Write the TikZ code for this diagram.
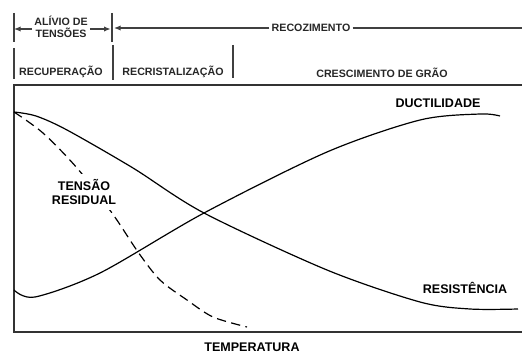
\documentclass[tikz,border=0pt]{standalone}
\usepackage{fontspec}
\setmainfont{Liberation Sans}
\usetikzlibrary{arrows.meta}
\begin{document}
\begin{tikzpicture}[x=0.75pt,y=-0.75pt,
    lbl/.style={font=\bfseries\fontsize{9.4}{10.2}\selectfont,inner sep=1pt,align=center},
    toplbl/.style={font=\bfseries\fontsize{8}{8.6}\selectfont,inner sep=1.5pt,align=center,text=black!85},
    tick/.style={line width=1pt,black!75},
    dim/.style={line width=0.9pt,black!75,-{Latex[length=5pt,width=4pt]}},
    curve/.style={line width=0.9pt}]
\useasboundingbox (0,0) rectangle (522,353);

% cabecalho
\node[toplbl] (alivio) at (61,27) {AL\'IVIO DE\\TENS\~OES};
\node[toplbl] (recoz) at (311,28) {RECOZIMENTO};
\coordinate (t1) at (14,29);
\coordinate (t2) at (112,29);
\coordinate (fim) at (522,28);
\draw[tick] (14,13) -- (14,42);
\draw[tick] (112,13) -- (112,42);
\draw[dim] (alivio.west |- t1) -- (t1);
\draw[dim] (alivio.east |- t2) -- ([xshift=-1pt]t2);
\draw[dim] (recoz.west) -- ([xshift=1.5pt]t2 |- recoz.west);
\draw[line width=0.9pt,black!75] (recoz.east) -- (fim);

\node[toplbl] (recup) at (61,72) {RECUPERA\c{C}\~AO};
\node[toplbl] (recrist) at (173,72) {RECRISTALIZA\c{C}\~AO};
\node[toplbl] (cresc) at (382,73) {CRESCIMENTO DE GR\~AO};
\draw[tick] (14,48) -- (14,79);
\draw[tick] (113,45) -- (113,80);
\draw[tick] (233,45) -- (233,78);

% caixa do grafico
\draw[line width=1.4pt,black!80] (522,85) -- (14,85) -- (14,332) -- (522,332);

% curvas
\draw[curve] plot[smooth] coordinates {(14,112) (36,116) (67,130) (133,168) (204,213) (327,270) (420,302) (470,309) (518,309)};
\draw[curve] plot[smooth] coordinates {(14,290) (35,297) (100,273) (204,213) (327,152) (420,120) (480,114) (500,116)};
\draw[curve,dash pattern=on 7pt off 4pt] plot[smooth] coordinates {(14,112) (43,133) (77,168) (112,213) (138,252) (160,280) (187,300) (213,317) (247,327)};

\node[lbl] (duct) at (438,103) {DUCTILIDADE};
\node[lbl] (resist) at (465,288) {RESIST\^ENCIA};
\node[lbl,fill=white,inner sep=4pt] (tensao) at (84,192) {TENS\~AO\\RESIDUAL};
\node[lbl] (temp) at (252,347) {TEMPERATURA};
\end{tikzpicture}
\end{document}
